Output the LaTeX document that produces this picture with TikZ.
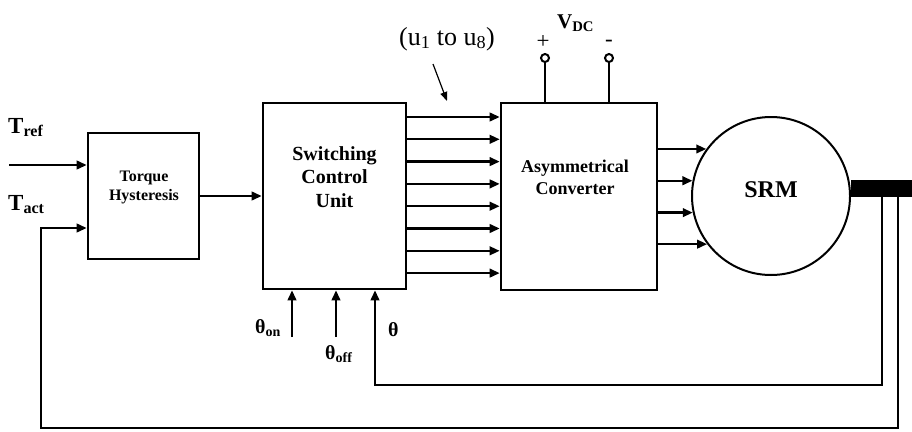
\documentclass[tikz,border=0pt]{standalone}
\usepackage{fontspec}
\setmainfont{Liberation Serif}
\usetikzlibrary{positioning,arrows.meta,calc}

\begin{document}
\begin{tikzpicture}[x=1pt, y=-1pt, >={Triangle[length=10pt,width=8.5pt]},
    every node/.style={font=\bfseries, align=center, inner sep=0pt},
    blk/.style={draw, line width=2.6pt},
    sig/.style={->, line width=2.3pt},
    fb/.style={line width=2.3pt},
    ptr/.style={-{Triangle[length=9pt,width=7pt]}, line width=1.2pt},
    term/.style={draw, circle, line width=2pt, minimum size=8pt}]
  \useasboundingbox (0,0) rectangle (912,431);

  % blocks
  \node[blk, minimum width=111, minimum height=126] (th) at (143.5,196) {};
  \node[font=\bfseries\fontsize{16}{19}\selectfont] (thtxt) at (144,187) {Torque\\Hysteresis};

  \node[blk, minimum width=143, minimum height=186] (sw) at (334.5,196) {};
  \node[font=\bfseries\fontsize{20}{23.5}\selectfont] (swtxt) at (334.5,177) {Switching\\Control\\Unit};

  \node[blk, minimum width=156, minimum height=187] (conv) at (579,196.5) {};
  \node[font=\bfseries\fontsize{18}{22}\selectfont] (convtxt) at (575,177) {Asymmetrical\\Converter};

  \node[draw, circle, line width=2pt, minimum size=158pt, text depth=12pt,
        font=\bfseries\fontsize{24}{24}\selectfont] (srm) at (771,196) {SRM};
  \node[fill=black, minimum width=61pt, minimum height=17pt, anchor=west,
        yshift=7.5pt] (shaft) at (srm.east) {};

  % inputs
  \coordinate (tref) at (9,165);
  \coordinate (tact) at (41,228);
  \node[anchor=base west, font=\bfseries\fontsize{23}{23}\selectfont] (ltref) at (8,133) {T\textsubscript{ref}};
  \node[anchor=base west, font=\bfseries\fontsize{23}{23}\selectfont] (ltact) at (8,210) {T\textsubscript{act}};
  \draw[sig] (tref) -- (th.west |- tref);
  \draw[sig] (th) -- (sw);

  % gate signals
  \foreach \i in {0,...,7}{
    \pgfmathsetmacro\yy{117+22.3*\i}
    \draw[sig] (sw.east |- 0,\yy) -- (conv.west |- 0,\yy);
  }
  \node[font=\normalfont\fontsize{26}{26}\selectfont] (lu) at (447,39) {(u\textsubscript{1} to u\textsubscript{8})};
  \coordinate (pA) at (433,64);
  \coordinate (pB) at (447,101);
  \draw[ptr] (pA) -- (pB);

  % phase currents
  \foreach \a in {144.4,169.1,192.4,217.4}
    \draw[sig] (conv.east |- srm.\a) -- (srm.\a);

  % dc supply
  \node[term] (vp) at (545,58) {};
  \node[term] (vn) at (609,58) {};
  \draw[fb] (vp) -- (conv.north -| vp);
  \draw[fb] (vn) -- (conv.north -| vn);
  \node[font=\normalfont\fontsize{23}{23}\selectfont] (lplus) at (543,42) {+};
  \node[font=\normalfont\fontsize{23}{23}\selectfont] (lminus) at (609,43) {-};
  \node[anchor=base west, font=\bfseries\fontsize{21}{21}\selectfont] (lvdc) at (557,28) {V\textsubscript{DC}};

  % angles
  \coordinate (on) at (292,337);
  \coordinate (off) at (336,337);
  \draw[sig] (on) -- (sw.south -| on);
  \draw[sig] (off) -- (sw.south -| off);
  \node[anchor=base east, font=\bfseries\fontsize{20}{20}\selectfont] (lon) at (281,333) {θ\textsubscript{on}};
  \node[anchor=base west, font=\bfseries\fontsize{20}{20}\selectfont] (loff) at (325,359) {θ\textsubscript{off}};
  \node[anchor=base west, font=\bfseries\fontsize{20}{20}\selectfont] (lth) at (388,336) {θ};

  % feedback
  \coordinate (tap1) at (882,0);
  \coordinate (tap2) at (898,0);
  \coordinate (fb1) at (375,385);
  \coordinate (fb2) at (41,428);
  \draw[fb,->] (shaft.south -| tap1) |- (fb1) -- (sw.south -| fb1);
  \draw[fb,->] (shaft.south -| tap2) |- (fb2) |- (th.west |- tact);
\end{tikzpicture}
\end{document}
